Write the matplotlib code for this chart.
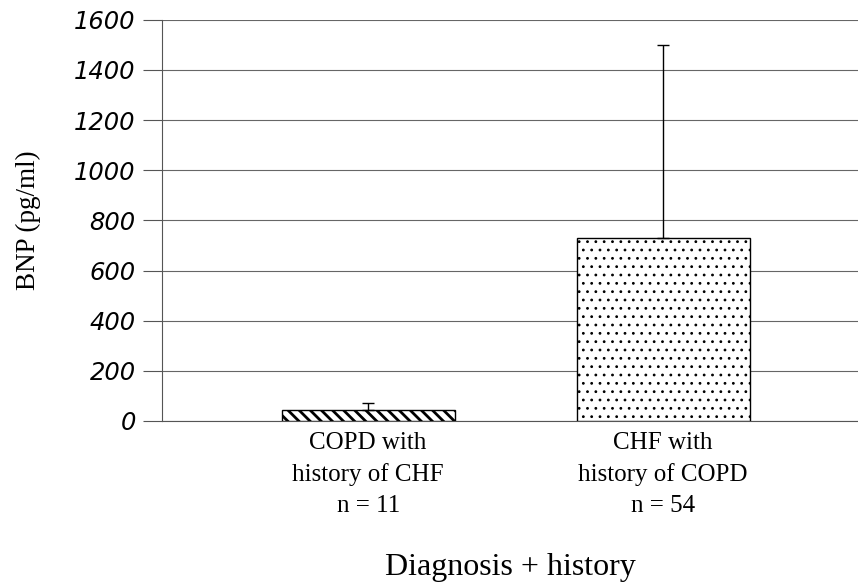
import numpy as np
import matplotlib.pyplot as plt

# BNP by diagnosis + history
groups = ["COPD with\nhistory of CHF\nn = 11", "CHF with\nhistory of COPD\nn = 54"]
means = [45, 730]
sd_upper = [25, 768]
yticks = [0, 200, 400, 600, 800, 1000, 1200, 1400, 1600]

fig = plt.figure(figsize=(8.58, 5.83), dpi=100)
ax = fig.add_axes([0.189, 0.278, 0.811, 0.688])

x = np.arange(len(groups))
plt.rcParams['hatch.linewidth'] = 2.0
b1 = ax.bar(x[0], means[0], width=0.586, color="white", edgecolor="black",
            hatch="\\\\\\", linewidth=1.0, zorder=3)
plt.rcParams['hatch.linewidth'] = 0.8
b2 = ax.bar(x[1], means[1], width=0.586, color="white", edgecolor="black",
            hatch="..", linewidth=1.0, zorder=3)
ax.errorbar(x, means, yerr=[[0, 0], sd_upper], fmt="none", ecolor="black",
            elinewidth=1.0, capsize=4, capthick=1.0, zorder=4)

ax.set_xlim(-0.698, 1.66)
ax.set_ylim(0, 1600)
ax.set_yticks(yticks)
ax.set_yticklabels([str(v) for v in yticks], family="DejaVu Sans",
                   style="oblique", fontsize=17.5)
ax.set_xticks(x)
ax.set_xticklabels(groups, family="Liberation Serif", fontsize=18,
                   linespacing=1.5)
ax.tick_params(axis="x", length=0, pad=8)
ax.tick_params(axis="y", direction="out", length=14, width=0.8, color="#555555", pad=5)

ax.grid(axis="y", color="#666666", linewidth=0.8, zorder=0)
for s in ["top", "right"]:
    ax.spines[s].set_visible(False)
ax.spines["left"].set_color("#555555")
ax.spines["bottom"].set_color("#555555")

ax.set_ylabel("BNP (pg/ml)", family="Liberation Serif", fontsize=19.5, labelpad=24)
ax.set_xlabel("Diagnosis + history", family="Liberation Serif", fontsize=23,
              labelpad=26)

fig.savefig("out.png", dpi=100)
